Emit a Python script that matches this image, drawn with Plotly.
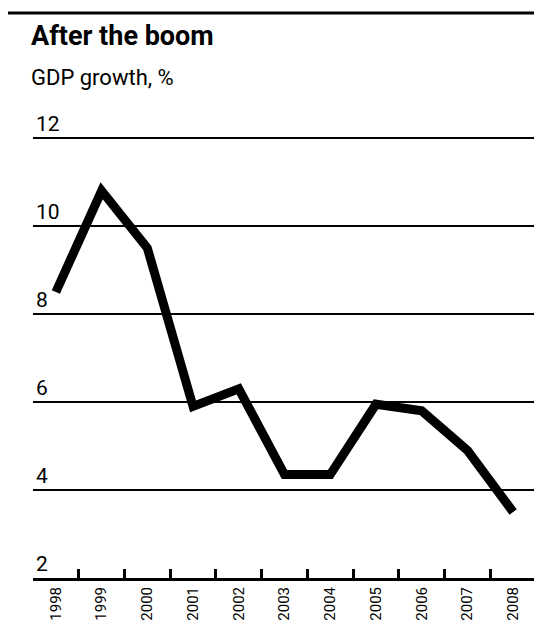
import plotly.graph_objects as go

years = ["1998", "1999", "2000", "2001", "2002", "2003", "2004", "2005", "2006", "2007", "2008"]
gdp_growth = [8.5, 10.8, 9.5, 5.9, 6.3, 4.35, 4.35, 5.95, 5.8, 4.9, 3.5]
y_ticks = [2, 4, 6, 8, 10, 12]

FONT = "Roboto, DejaVu Sans Condensed, sans-serif"

# page body has an 8px margin; compensate so the plot lands where the reference has it
W, H = 534, 621
M_L, M_R, M_T, M_B = 25, 6, 108, 51
PLOT_H = H - M_T - M_B
top_rule_y = 1 + (M_T - 5) / PLOT_H

fig = go.Figure()
fig.add_trace(go.Scatter(
    x=years, y=gdp_growth, mode="lines",
    line=dict(color="black", width=9),
    hoverinfo="skip",
))

fig.update_layout(
    width=W, height=H,
    paper_bgcolor="white", plot_bgcolor="white",
    margin=dict(l=M_L, r=M_R, t=M_T, b=M_B),
    showlegend=False,
    xaxis=dict(
        type="category",
        tickson="boundaries",
        ticks="inside", ticklen=9, tickwidth=3, tickcolor="black",
        showline=True, linecolor="black", linewidth=3,
        showgrid=False, zeroline=False,
        tickangle=-90,
        ticklabeloverflow="allow",
        tickfont=dict(family=FONT, size=15, color="black"),
        range=[-0.5, 10.5],
    ),
    yaxis=dict(
        range=[2, 12.5],
        tickvals=y_ticks,
        ticktext=[str(v) for v in y_ticks],
        ticks="", showline=False,
        showgrid=True, gridcolor="black", gridwidth=2,
        zeroline=False,
        ticklabelposition="inside top",
        ticklabeloverflow="allow",
        tickfont=dict(family=FONT, size=21, color="black"),
    ),
    annotations=[
        dict(text="<b>After the boom</b>", xref="paper", yref="paper",
             x=-0.008, y=1.0, xanchor="left", yanchor="bottom", yshift=62,
             showarrow=False, font=dict(family=FONT, size=27, color="black")),
        dict(text="GDP growth, %", xref="paper", yref="paper",
             x=-0.008, y=1.0, xanchor="left", yanchor="bottom", yshift=24,
             showarrow=False, font=dict(family=FONT, size=22, color="black")),
    ],
)
fig.add_shape(type="line", xref="paper", yref="paper", x0=-0.055, x1=1.02,
              y0=top_rule_y, y1=top_rule_y,
              line=dict(color="black", width=3))

fig.write_html("out.html")
